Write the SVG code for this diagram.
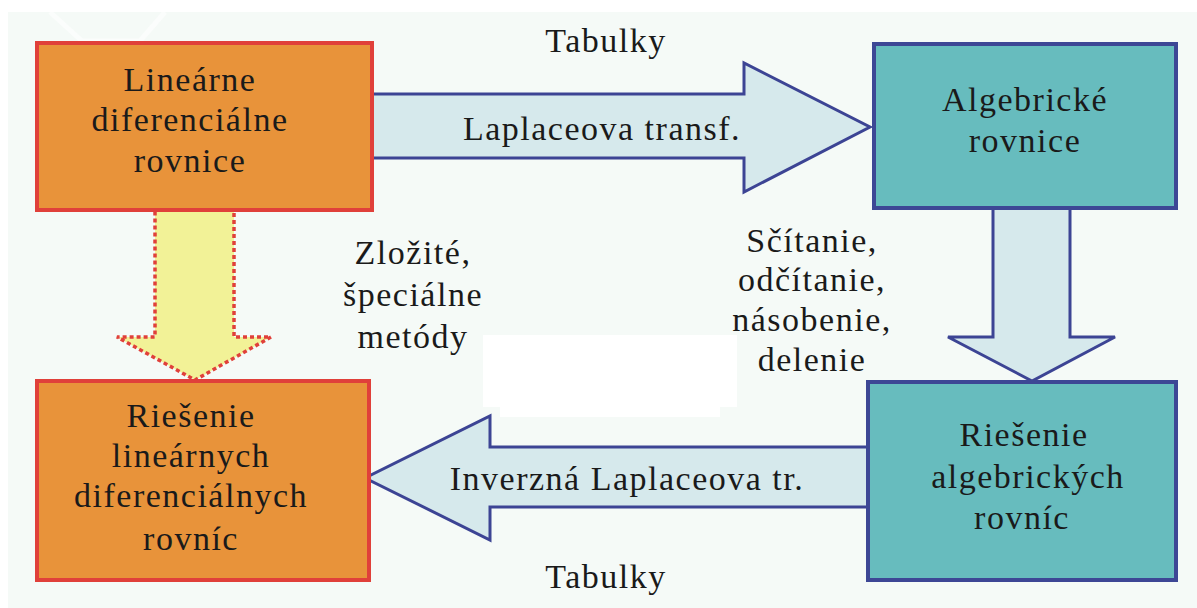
<svg xmlns="http://www.w3.org/2000/svg" width="1197" height="608" viewBox="0 0 1197 608">
<style>
.t{font-size:34px;fill:#1a1a1a;letter-spacing:1.5px;text-anchor:middle}
.orange{fill:#e8933a;stroke:#e0403a;stroke-width:4}
.teal{fill:#67bcbe;stroke:#3d4795;stroke-width:4}
.blk{fill:#d6e9ec;stroke:#3c4494;stroke-width:3;stroke-linejoin:miter}
.dot{fill:#f2f297;stroke:#e0403a;stroke-width:3.5;stroke-dasharray:4 3}
</style>
<rect x="0" y="0" width="1197" height="608" fill="#ffffff"/>
<rect x="8" y="12" width="1189" height="596" fill="#f5faf7"/>
<polyline points="50,12 82,41 140,41 165,12" fill="none" stroke="#ffffff" stroke-width="5" opacity="0.6"/>
<rect x="483" y="335" width="254" height="72" fill="#ffffff"/>
<rect x="500" y="405" width="220" height="12" fill="#ffffff"/>
<g id="connectors">
<path class="dot" d="M155,208 L234,208 L234,337 L271,337 L195,380 L117,337 L155,337 Z"/>
<path class="blk" d="M370,94 L744,94 L744,63 L870,127 L744,192 L744,158 L370,158 Z"/>
<path class="blk" d="M993,208 L1070,208 L1070,337 L1115,337 L1032,381 L948,337 L993,337 Z"/>
<path class="blk" d="M868,447 L490,447 L490,416 L365,478 L490,540 L490,507 L868,507 Z"/>
</g>
<g id="node-linearne" font-family="Liberation Serif">
<rect class="orange" x="37" y="43" width="335" height="167"/>
<text class="t" x="190" y="91">Lineárne</text>
<text class="t" x="190" y="131">diferenciálne</text>
<text class="t" x="190" y="172">rovnice</text>
</g>
<g id="node-algebricke" font-family="Liberation Serif">
<rect class="teal" x="874" y="44" width="302" height="164"/>
<text class="t" x="1025" y="111">Algebrické</text>
<text class="t" x="1025" y="152">rovnice</text>
</g>
<g id="node-riesenie-alg" font-family="Liberation Serif">
<rect class="teal" x="868" y="382" width="308" height="198"/>
<text class="t" x="1024" y="446">Riešenie</text>
<text class="t" x="1028" y="488">algebrických</text>
<text class="t" x="1022" y="529">rovníc</text>
</g>
<g id="node-riesenie-lin" font-family="Liberation Serif">
<rect class="orange" x="37" y="381" width="332" height="199"/>
<text class="t" x="191" y="427">Riešenie</text>
<text class="t" x="191" y="467">lineárnych</text>
<text class="t" x="191" y="507">diferenciálnych</text>
<text class="t" x="191" y="550">rovníc</text>
</g>
<g id="labels" font-family="Liberation Serif">
<text class="t" x="606" y="52">Tabulky</text>
<text class="t" x="602" y="140">Laplaceova transf.</text>
<text class="t" x="413" y="264">Zložité,</text>
<text class="t" x="413" y="306">špeciálne</text>
<text class="t" x="413" y="348">metódy</text>
<text class="t" x="812" y="252">Sčítanie,</text>
<text class="t" x="812" y="291">odčítanie,</text>
<text class="t" x="812" y="331">násobenie,</text>
<text class="t" x="812" y="371">delenie</text>
<text class="t" x="627" y="490">Inverzná Laplaceova tr.</text>
<text class="t" x="606" y="588">Tabulky</text>
</g>
</svg>
